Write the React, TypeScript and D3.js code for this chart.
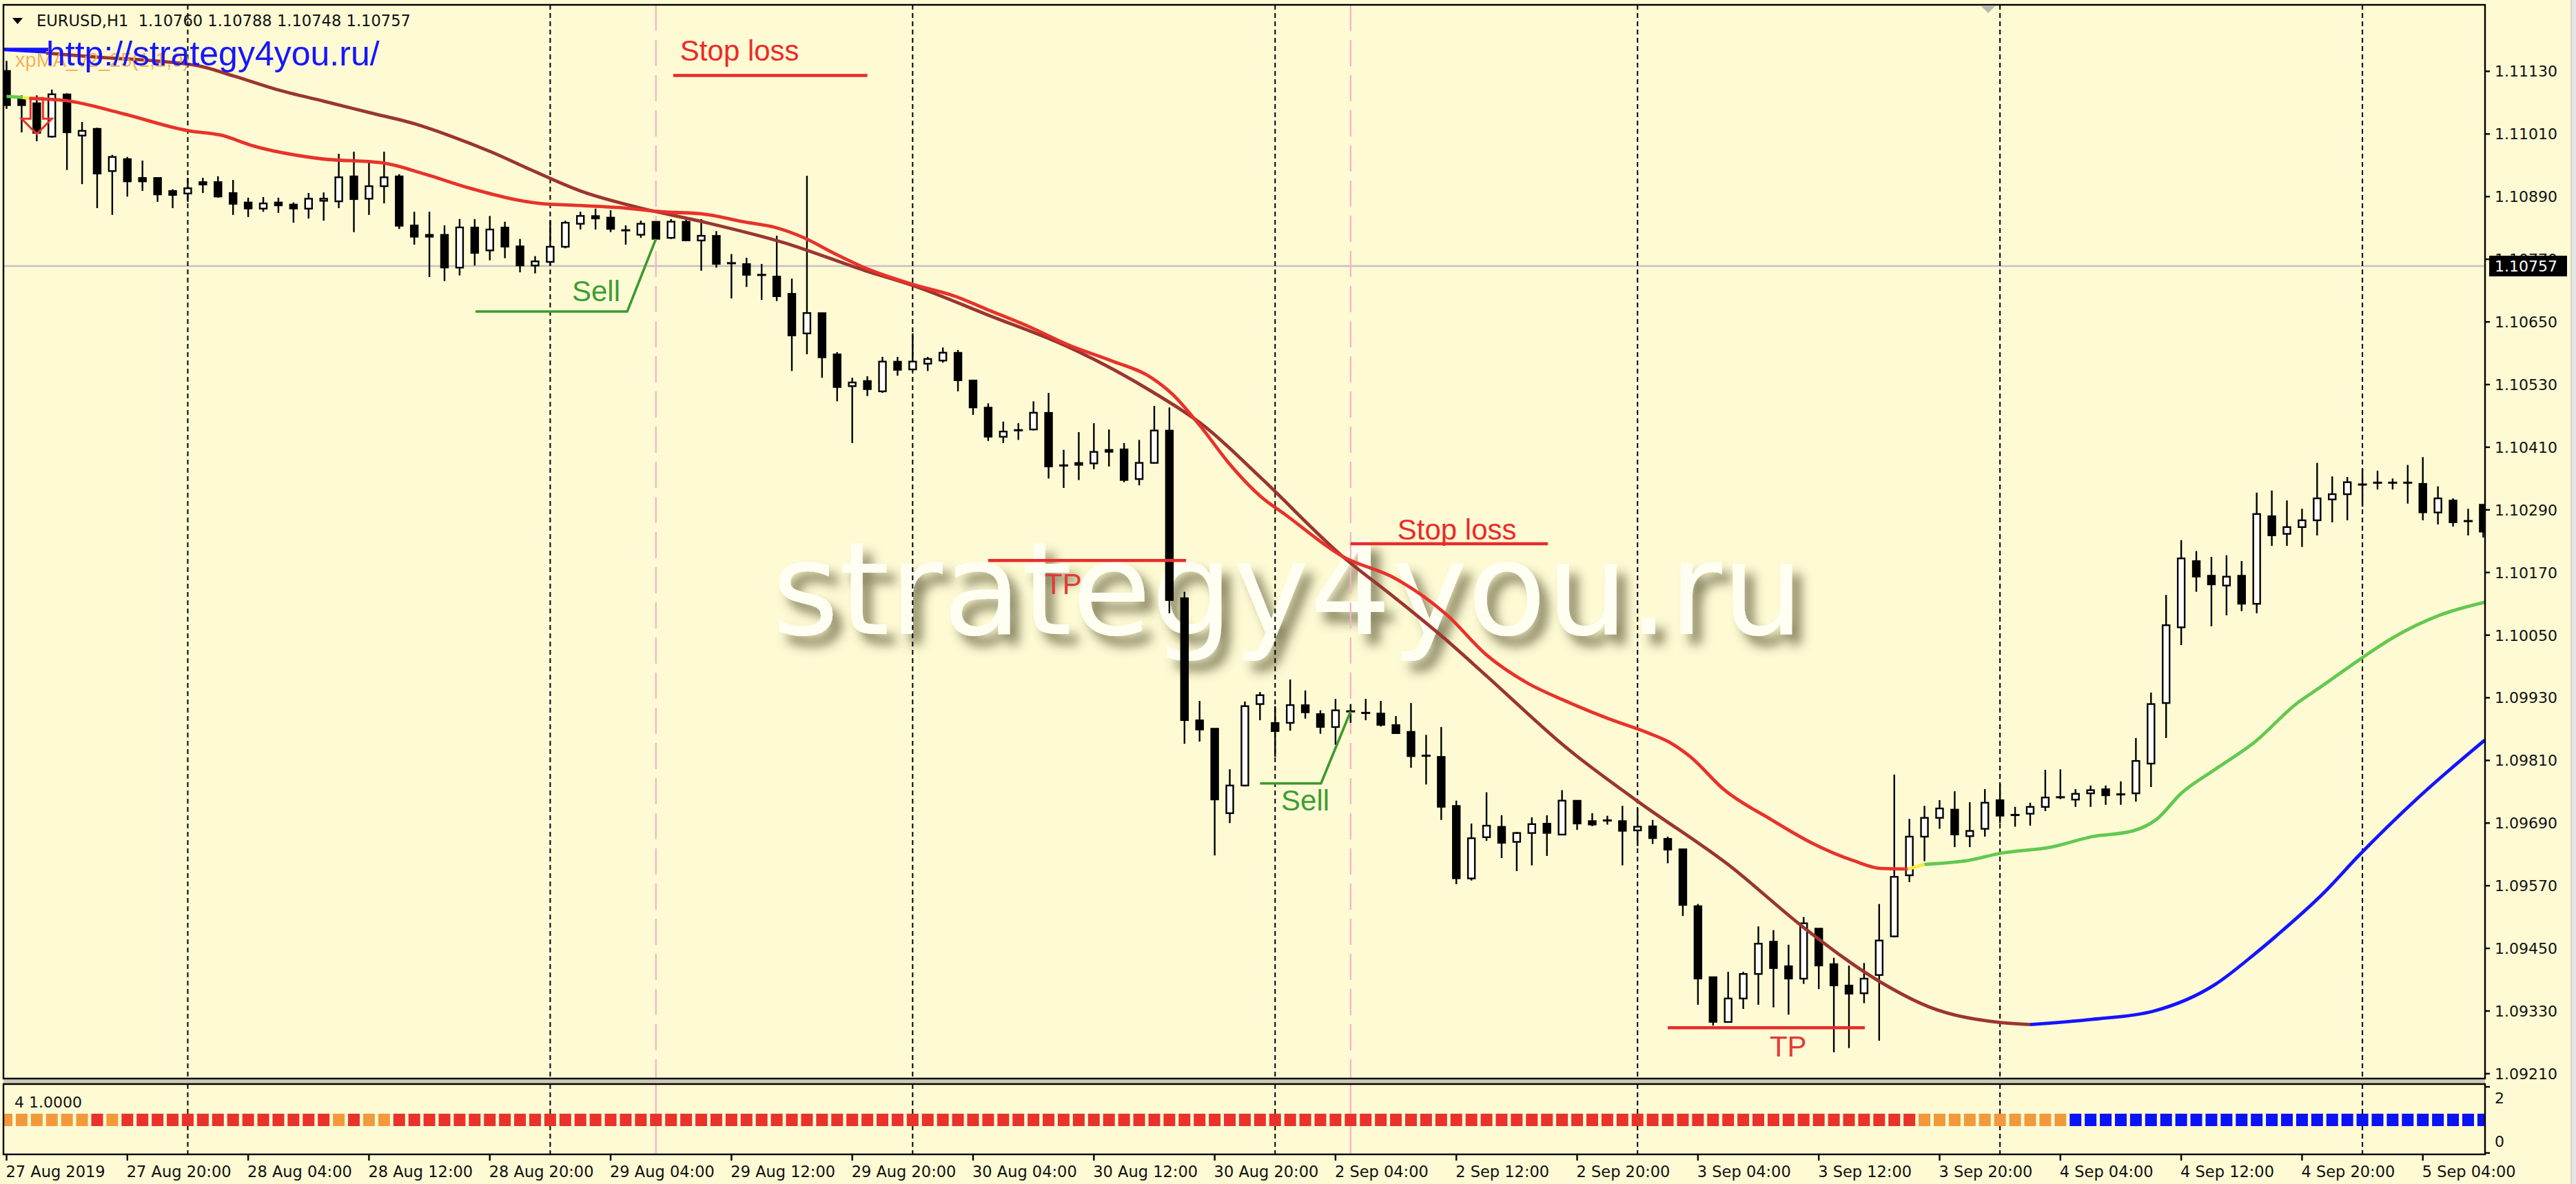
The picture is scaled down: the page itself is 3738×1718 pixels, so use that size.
import React, { useEffect } from "react";
import * as d3 from "d3";

const W = 3738;
const H = 1718;
const PLOT_L = 5;
const PLOT_R = 3606;
const MAIN_T = 7;
const MAIN_B = 1565;
const SUB_T = 1573;
const SUB_B = 1675;

// ---------- OHLC (EURUSD H1, 27 Aug 12:00 .. 5 Sep 08:00) ----------
const openP = [
  1.11131, 1.11078, 1.11069, 1.11005, 1.11086, 1.11007, 1.1102, 1.10939, 1.10962, 1.10926,
  1.10926, 1.10901, 1.10896, 1.10918, 1.10918, 1.10897, 1.10879, 1.10867, 1.10879, 1.10875,
  1.10867, 1.10882, 1.10881, 1.10929, 1.10886, 1.1091, 1.10929, 1.10835, 1.10817, 1.10817,
  1.10754, 1.10831, 1.10787, 1.10831, 1.10795, 1.10758, 1.10765, 1.10794, 1.10838, 1.10853,
  1.1085, 1.10827, 1.10817, 1.10842, 1.10811, 1.10842, 1.10806, 1.10815, 1.10764, 1.10761,
  1.10741, 1.10737, 1.10704, 1.10628, 1.10667, 1.10588, 1.10527, 1.10537, 1.10517, 1.10574,
  1.10559, 1.1057, 1.10576, 1.10591, 1.10538, 1.10486, 1.1043, 1.10442, 1.10444, 1.10476,
  1.10376, 1.1038, 1.10379, 1.10405, 1.10406, 1.10349, 1.1038, 1.10442, 1.10121, 1.09887,
  1.09871, 1.09709, 1.09762, 1.09918, 1.09882, 1.09882, 1.09916, 1.09899, 1.09874, 1.09905,
  1.09902, 1.099, 1.09878, 1.09865, 1.0982, 1.09817, 1.09723, 1.09584, 1.09663, 1.09683,
  1.09654, 1.09671, 1.09689, 1.09668, 1.09733, 1.09694, 1.09696, 1.09694, 1.09676, 1.09684,
  1.0966, 1.0964, 1.09531, 1.09395, 1.09309, 1.09354, 1.09401, 1.09463, 1.09416, 1.09392,
  1.09488, 1.0942, 1.09379, 1.09364, 1.09399, 1.09473, 1.0959, 1.09664, 1.097, 1.09716,
  1.09665, 1.09679, 1.09734, 1.09706, 1.09708, 1.09721, 1.09741, 1.09735, 1.09747, 1.09755,
  1.09746, 1.09747, 1.09804, 1.0992, 1.10065, 1.10192, 1.10164, 1.10145, 1.10164, 1.1011,
  1.10278, 1.10244, 1.10257, 1.1027, 1.1031, 1.1032, 1.1034, 1.10343, 1.10343, 1.10343,
  1.1034, 1.10285, 1.10308, 1.10269, 1.103,
];
const highP = [
  1.1115, 1.11084, 1.11084, 1.11095, 1.11088, 1.11033, 1.11022, 1.1097, 1.10966, 1.10959,
  1.10926, 1.10904, 1.10926, 1.10926, 1.10929, 1.10922, 1.10888, 1.10889, 1.10888, 1.10879,
  1.10897, 1.10898, 1.10972, 1.10976, 1.1096, 1.10976, 1.10933, 1.10861, 1.10861, 1.10835,
  1.10847, 1.10847, 1.10853, 1.10842, 1.10809, 1.10776, 1.10844, 1.10844, 1.10861, 1.10867,
  1.10864, 1.10835, 1.10844, 1.10842, 1.10847, 1.10851, 1.10847, 1.10824, 1.1078, 1.10773,
  1.10761, 1.10815, 1.10733, 1.1093, 1.10667, 1.10592, 1.10543, 1.10546, 1.10583, 1.10583,
  1.10628, 1.10583, 1.10601, 1.10596, 1.10538, 1.10494, 1.10459, 1.10456, 1.10498, 1.10514,
  1.10405, 1.10439, 1.10456, 1.10444, 1.10418, 1.10424, 1.10489, 1.10486, 1.10133, 1.09924,
  1.09871, 1.09793, 1.09923, 1.09941, 1.09914, 1.09965, 1.09944, 1.09906, 1.09928, 1.09918,
  1.09928, 1.09924, 1.09895, 1.0992, 1.09859, 1.09874, 1.09733, 1.09689, 1.09749, 1.09705,
  1.09673, 1.09701, 1.09705, 1.09753, 1.09733, 1.09709, 1.09704, 1.09723, 1.09718, 1.09696,
  1.09664, 1.0964, 1.09535, 1.09395, 1.09405, 1.09405, 1.09492, 1.09485, 1.09457, 1.0951,
  1.09488, 1.09432, 1.09417, 1.09422, 1.09535, 1.09783, 1.09698, 1.09723, 1.09734, 1.09751,
  1.0973, 1.09755, 1.09766, 1.09721, 1.09729, 1.09792, 1.09793, 1.09755, 1.09762, 1.09762,
  1.0977, 1.09853, 1.0994, 1.10127, 1.10232, 1.10211, 1.102, 1.10203, 1.10192, 1.10323,
  1.10327, 1.10308, 1.10292, 1.1038, 1.10354, 1.10353, 1.10369, 1.10365, 1.1035, 1.10376,
  1.10391, 1.10335, 1.10312, 1.10292, 1.103,
];
const lowP = [
  1.11058, 1.11013, 1.10996, 1.11003, 1.10941, 1.10914, 1.10868, 1.10855, 1.1089, 1.10901,
  1.1088, 1.10868, 1.1088, 1.10897, 1.10888, 1.10855, 1.10851, 1.10861, 1.10859, 1.1084,
  1.10848, 1.10844, 1.10868, 1.10822, 1.10855, 1.10877, 1.10828, 1.10798, 1.10736, 1.10728,
  1.10739, 1.10758, 1.10768, 1.10772, 1.10745, 1.10743, 1.10758, 1.10791, 1.10827, 1.10827,
  1.10822, 1.10798, 1.10811, 1.10806, 1.10809, 1.10805, 1.10748, 1.10754, 1.10695, 1.10717,
  1.10692, 1.1069, 1.10556, 1.10588, 1.10543, 1.10498, 1.10418, 1.10508, 1.10514, 1.10547,
  1.10556, 1.10556, 1.10572, 1.10517, 1.10472, 1.10422, 1.10418, 1.10424, 1.10442, 1.1035,
  1.10332, 1.10347, 1.10368, 1.10373, 1.10343, 1.10337, 1.10379, 1.10092, 1.09842, 1.09846,
  1.09628, 1.0969, 1.0976, 1.09887, 1.09817, 1.09867, 1.0989, 1.09861, 1.0984, 1.09882,
  1.09887, 1.09875, 1.09861, 1.09796, 1.09764, 1.09696, 1.09573, 1.0958, 1.09656, 1.09623,
  1.09598, 1.09609, 1.09627, 1.09667, 1.09677, 1.09684, 1.09687, 1.09609, 1.09646, 1.0965,
  1.09613, 1.09512, 1.09342, 1.09302, 1.09308, 1.09334, 1.09342, 1.09337, 1.09323, 1.09382,
  1.09372, 1.09251, 1.09259, 1.09345, 1.09273, 1.09471, 1.09577, 1.09617, 1.09679, 1.09644,
  1.09644, 1.09664, 1.0969, 1.09683, 1.09685, 1.09713, 1.09736, 1.09721, 1.09721, 1.09725,
  1.09725, 1.09731, 1.09759, 1.09853, 1.10031, 1.10133, 1.10067, 1.10088, 1.10096, 1.10092,
  1.10221, 1.10221, 1.10219, 1.10241, 1.10266, 1.1027, 1.10296, 1.10329, 1.10329, 1.10302,
  1.1027, 1.10262, 1.10258, 1.10241, 1.10237,
];
const closeP = [
  1.11065, 1.11065, 1.11012, 1.11086, 1.11013, 1.11016, 1.10934, 1.10966, 1.10919, 1.10919,
  1.10894, 1.10893, 1.10906, 1.10913, 1.1089, 1.10876, 1.10867, 1.10877, 1.10873, 1.10867,
  1.10886, 1.10886, 1.10927, 1.10885, 1.1091, 1.10927, 1.10834, 1.10813, 1.10813, 1.10754,
  1.10831, 1.10782, 1.10827, 1.10794, 1.10758, 1.10766, 1.10794, 1.1084, 1.10853, 1.10848,
  1.10828, 1.10824, 1.10838, 1.10809, 1.10842, 1.10806, 1.10815, 1.10761, 1.10761, 1.1074,
  1.10739, 1.10699, 1.10624, 1.10667, 1.10582, 1.10525, 1.10534, 1.10521, 1.10574, 1.10558,
  1.10574, 1.10579, 1.10591, 1.10538, 1.10486, 1.1043, 1.1044, 1.10443, 1.10476, 1.10373,
  1.10374, 1.10376, 1.10401, 1.10401, 1.10347, 1.1038, 1.10442, 1.10117, 1.09887, 1.09869,
  1.09735, 1.09762, 1.09914, 1.09935, 1.09866, 1.09916, 1.09902, 1.09874, 1.09906, 1.09903,
  1.099, 1.09878, 1.09862, 1.09818, 1.09818, 1.09721, 1.09584, 1.09661, 1.09685, 1.09652,
  1.09671, 1.09688, 1.09671, 1.09733, 1.09689, 1.09687, 1.09694, 1.09675, 1.09683, 1.09661,
  1.09639, 1.09533, 1.09392, 1.09309, 1.09354, 1.09401, 1.09459, 1.09412, 1.09392, 1.09498,
  1.09417, 1.09379, 1.09363, 1.09392, 1.09465, 1.09587, 1.09664, 1.097, 1.09718, 1.09668,
  1.09675, 1.09729, 1.09704, 1.09705, 1.09721, 1.09739, 1.09738, 1.09746, 1.09753, 1.09743,
  1.09744, 1.09809, 1.09918, 1.10069, 1.10197, 1.10162, 1.10147, 1.10162, 1.1011, 1.10282,
  1.10241, 1.10257, 1.1027, 1.10312, 1.1032, 1.10343, 1.10337, 1.10341, 1.10341, 1.10341,
  1.10285, 1.10312, 1.10266, 1.10268, 1.10248,
];

// ---------- axes ----------
const priceTicks = [
  1.1113, 1.1101, 1.1089, 1.1077, 1.1065, 1.1053, 1.1041, 1.1029, 1.1017,
  1.1005, 1.0993, 1.0981, 1.0969, 1.0957, 1.0945, 1.0933, 1.0921,
];
const currentPrice = 1.10757;
const timeTickBars = [0, 8, 16, 24, 32, 40, 48, 56, 64, 72, 80, 88, 96, 104, 112, 120, 128, 136, 144, 152, 160];
const timeTickLabels = [
  "27 Aug 2019", "27 Aug 20:00", "28 Aug 04:00", "28 Aug 12:00", "28 Aug 20:00",
  "29 Aug 04:00", "29 Aug 12:00", "29 Aug 20:00", "30 Aug 04:00", "30 Aug 12:00",
  "30 Aug 20:00", "2 Sep 04:00", "2 Sep 12:00", "2 Sep 20:00", "3 Sep 04:00",
  "3 Sep 12:00", "3 Sep 20:00", "4 Sep 04:00", "4 Sep 12:00", "4 Sep 20:00", "5 Sep 04:00",
];
const daySeparatorBars = [12, 36, 60, 84, 108, 132, 156];
const pinkLineBars = [43, 89];

// ---------- moving averages (bar index, price) ----------
const fastGreenA = [[0, 1.11082], [1.07, 1.1108]];
const fastYellowA = [[1.07, 1.1108], [1.5, 1.11078]];
const fastRed = [
  [1.5, 1.11078], [3.9, 1.11074], [7.69, 1.11049], [12.07, 1.11016], [14.17, 1.11008],
  [16.36, 1.10987], [20.69, 1.10963], [25.03, 1.10954], [27.72, 1.10933], [30.69, 1.10906],
  [35.3, 1.10877], [38.0, 1.10873], [40.6, 1.10869], [43.33, 1.10861], [46.07, 1.10857],
  [48.76, 1.10842], [50.9, 1.10831], [52.82, 1.10811], [54.69, 1.10783], [56.88, 1.10753],
  [60.12, 1.10721], [62.82, 1.10699], [65.0, 1.10673], [67.7, 1.10641], [70.39, 1.10605],
  [73.13, 1.10576], [75.82, 1.10543], [77.19, 1.10512], [79.06, 1.1045], [80.98, 1.10378],
  [83.07, 1.10315], [84.67, 1.10281], [88.46, 1.10201], [92.0, 1.10158], [95.4, 1.10088],
  [97.96, 1.10013], [100.6, 1.0996], [103.3, 1.09923], [106.07, 1.0989], [108.76, 1.09862],
  [110.1, 1.09845], [111.5, 1.09817], [113.65, 1.09756], [116.89, 1.09696], [119.6, 1.09651],
  [122.3, 1.09618], [124.15, 1.09603], [125.9, 1.09602],
];
const fastYellowB = [[125.9, 1.09602], [127.0, 1.09611]];
const fastGreenB = [
  [127.0, 1.09611], [130.0, 1.09619], [132.0, 1.09632], [135.4, 1.09644], [138.1, 1.09664],
  [140.8, 1.09675], [142.4, 1.09698], [144.0, 1.09747], [146.2, 1.09792], [148.9, 1.09846],
  [151.6, 1.09918], [153.3, 1.09952], [155.9, 1.10005], [157.9, 1.10043], [161.1, 1.10088],
  [164.1, 1.10113],
];
const slowBlueA = [[-0.4, 1.11172], [2.62, 1.11167]];
const slowBrown = [
  [2.62, 1.11165], [5.68, 1.11158], [12.62, 1.11141], [15.04, 1.11121], [17.91, 1.11095],
  [20.97, 1.11073], [24.03, 1.11051], [27.08, 1.11029], [29.32, 1.11007], [32.06, 1.10976],
  [34.75, 1.10941], [37.99, 1.10901], [42.0, 1.10868], [46.07, 1.10842], [51.45, 1.10802],
  [56.88, 1.10748], [60.08, 1.10719], [65.0, 1.10663], [70.39, 1.10601], [75.82, 1.10517],
  [79.33, 1.1045], [83.07, 1.10351], [88.46, 1.10201], [92.0, 1.1012], [95.4, 1.10039],
  [97.96, 1.09973], [103.3, 1.09834], [107.9, 1.09734], [114.2, 1.09606], [119.0, 1.0949],
  [124.0, 1.09387], [127.3, 1.09338], [132.0, 1.09308], [134.0, 1.09304],
];
const slowBlueB = [
  [134.0, 1.09304], [138.1, 1.09314], [142.2, 1.0933], [146.2, 1.0938], [148.9, 1.0944],
  [150.3, 1.09474], [153.5, 1.09558], [155.7, 1.09626], [159.7, 1.09739], [164.1, 1.09849],
];

// ---------- signal bar (0 = orange, 1 = red, 2 = blue) ----------
const signalState = [
  0, 0, 0, 0, 0, 0, 1, 0, 1, 1, 1, 1, 1, 1, 1, 1, 1, 1, 1, 1,
  1, 1, 0, 1, 0, 0, 1, 1, 1, 1, 1, 1, 1, 1, 1, 1, 1, 1, 1, 1,
  1, 1, 1, 1, 1, 1, 1, 1, 1, 1, 1, 1, 1, 1, 1, 1, 1, 1, 1, 1,
  1, 1, 1, 1, 1, 1, 1, 1, 1, 1, 1, 1, 1, 1, 1, 1, 1, 1, 1, 1,
  1, 1, 1, 1, 1, 1, 1, 1, 1, 1, 1, 1, 1, 1, 1, 1, 1, 1, 1, 1,
  1, 1, 1, 1, 1, 1, 1, 1, 1, 1, 1, 1, 1, 1, 1, 1, 1, 1, 1, 1,
  1, 1, 1, 1, 1, 1, 1, 0, 0, 0, 0, 0, 0, 0, 0, 0, 0, 2, 2, 2,
  2, 2, 2, 2, 2, 2, 2, 2, 2, 2, 2, 2, 2, 2, 2, 2, 2, 2, 2, 2,
  2, 2, 2, 2, 2,
];
const signalValue = 1;

// ---------- trade annotations ----------
const stopLossLines = [
  { from: 44.15, to: 57.0, price: 1.11122, labelBar: 44.6, labelPrice: 1.1115 },
  { from: 89.0, to: 102.06, price: 1.10225, labelBar: 92.1, labelPrice: 1.10233 },
];
const takeProfitLines = [
  { from: 65.0, to: 78.1, price: 1.10193, labelBar: 68.75, labelPrice: 1.10129 },
  { from: 110.0, to: 123.05, price: 1.09298, labelBar: 116.75, labelPrice: 1.09243 },
];
const sellPaths = [
  [[31.05, 1.1067], [41.1, 1.1067], [43.0, 1.10809]],
  [[83.0, 1.09766], [87.04, 1.09766], [89.0, 1.09904]],
];
const sellLabels = [[37.44, 1.1069], [84.4, 1.09714]];
const sellArrowBar = 2;

const BG = "rgb(253,250,212)";
const FONT = "DejaVu Sans";
const C_FAST_RED = "#e8322a";
const C_BROWN = "#9b3530";
const C_BLUE = "#1414ff";
const C_GREEN_MA = "#62c94f";
const C_YELLOW = "#f3ee3c";
const C_SELL = "#3b9a2e";
const C_ANN_RED = "#e82c2a";

export default function App() {
  useEffect(() => {
    document.body.style.margin = "0";
    document.body.style.overflow = "hidden";
  }, []);

  const x = d3.scaleLinear().domain([0, 164]).range([9.5, 3603.4]);
  const y = d3.scaleLinear().domain([1.0921, 1.1113]).range([1557.9, 103.5]);
  const ySub = d3.scaleLinear().domain([0, 2]).range([1673, 1577]);

  const maLine = d3
    .line<number[]>()
    .x((d) => x(d[0]))
    .y((d) => y(d[1]))
    .curve(d3.curveMonotoneX);
  const polyLine = d3
    .line<number[]>()
    .x((d) => x(d[0]))
    .y((d) => y(d[1]));

  const bars = d3.range(openP.length);
  const signalColors = ["#f29a3b", "#e8332b", "#0a12f6"];

  const arrowCx = x(sellArrowBar);
  const arrowTop = y(highP[sellArrowBar]) + 4;
  const arrowPath = d3.path();
  arrowPath.moveTo(arrowCx - 9, arrowTop);
  arrowPath.lineTo(arrowCx + 9, arrowTop);
  arrowPath.lineTo(arrowCx + 9, arrowTop + 30);
  arrowPath.lineTo(arrowCx + 22, arrowTop + 30);
  arrowPath.lineTo(arrowCx, arrowTop + 52);
  arrowPath.lineTo(arrowCx - 22, arrowTop + 30);
  arrowPath.lineTo(arrowCx - 9, arrowTop + 30);
  arrowPath.closePath();

  return (
    <svg
      width={W}
      height={H}
      viewBox={`0 0 ${W} ${H}`}
      style={{ position: "absolute", left: 0, top: 0, display: "block" }}
    >
      <defs>
        <clipPath id="mainClip">
          <rect x={PLOT_L} y={MAIN_T} width={PLOT_R - PLOT_L} height={MAIN_B - MAIN_T} />
        </clipPath>
        <clipPath id="subClip">
          <rect x={PLOT_L} y={SUB_T} width={PLOT_R - PLOT_L} height={SUB_B - SUB_T} />
        </clipPath>
        <filter id="wmShadow" x="-10%" y="-30%" width="130%" height="170%">
          <feGaussianBlur in="SourceAlpha" stdDeviation="8" result="blur" />
          <feOffset in="blur" dx="13" dy="15" result="off" />
          <feFlood floodColor="#5c5934" floodOpacity="0.72" result="col" />
          <feComposite in="col" in2="off" operator="in" result="shadow" />
          <feMerge>
            <feMergeNode in="shadow" />
            <feMergeNode in="SourceGraphic" />
          </feMerge>
        </filter>
      </defs>

      <rect x={0} y={0} width={W} height={H} fill={BG} />
      <rect x={3731} y={0} width={7} height={H} fill="#e6e6e2" />
      <line x1={3731} y1={0} x2={3731} y2={H} stroke="#c8c8c8" strokeWidth={1.5} />

      {/* separator band between panels */}
      <rect x={PLOT_L} y={MAIN_B} width={PLOT_R - PLOT_L} height={SUB_T - MAIN_B} fill="#cbc8b2" />

      {/* ---------- main panel ---------- */}
      <g clipPath="url(#mainClip)">
        {/* watermark */}
        <text
          x={1120}
          y={920}
          fontFamily={FONT}
          fontSize={187}
          fill="#fffef2"
          filter="url(#wmShadow)"
        >
          strategy4you.ru
        </text>

        {/* current price line */}
        <line
          x1={PLOT_L}
          x2={PLOT_R}
          y1={y(currentPrice)}
          y2={y(currentPrice)}
          stroke="#c2c2c2"
          strokeWidth={2.4}
        />

        {/* day separators */}
        {daySeparatorBars.map((b) => (
          <line
            key={"ds" + b}
            x1={x(b)}
            x2={x(b)}
            y1={MAIN_T}
            y2={MAIN_B}
            stroke="#000"
            strokeWidth={2}
            strokeDasharray="7 5"
          />
        ))}
        {pinkLineBars.map((b) => (
          <line
            key={"pk" + b}
            x1={x(b)}
            x2={x(b)}
            y1={MAIN_T}
            y2={MAIN_B}
            stroke="#f4b3c6"
            strokeWidth={2.2}
            strokeDasharray="38 13"
          />
        ))}

        {/* candles */}
        {bars.map((i) => {
          const cx = x(i);
          const o = openP[i];
          const c = closeP[i];
          const yo = y(o);
          const yc = y(c);
          const top = Math.min(yo, yc);
          const bot = Math.max(yo, yc);
          const bull = c >= o;
          const hgt = bot - top;
          return (
            <g key={"c" + i}>
              <line x1={cx} x2={cx} y1={y(highP[i])} y2={y(lowP[i])} stroke="#000" strokeWidth={2.4} />
              {hgt < 3 ? (
                <line x1={cx - 6.5} x2={cx + 6.5} y1={(top + bot) / 2} y2={(top + bot) / 2} stroke="#000" strokeWidth={3} />
              ) : bull ? (
                <rect x={cx - 5} y={top} width={10} height={hgt} fill="#fff" stroke="#000" strokeWidth={2.4} />
              ) : (
                <rect x={cx - 6.2} y={top - 1} width={12.4} height={hgt + 2} fill="#000" />
              )}
            </g>
          );
        })}

        {/* moving averages */}
        <path d={maLine(slowBlueA) || ""} fill="none" stroke={C_BLUE} strokeWidth={4.8} />
        <path d={maLine(slowBrown) || ""} fill="none" stroke={C_BROWN} strokeWidth={4.8} />
        <path d={maLine(slowBlueB) || ""} fill="none" stroke={C_BLUE} strokeWidth={4.8} />
        <path d={maLine(fastGreenA) || ""} fill="none" stroke={C_GREEN_MA} strokeWidth={4.8} />
        <path d={maLine(fastYellowA) || ""} fill="none" stroke={C_YELLOW} strokeWidth={4.8} />
        <path d={maLine(fastRed) || ""} fill="none" stroke={C_FAST_RED} strokeWidth={4.8} />
        <path d={maLine(fastYellowB) || ""} fill="none" stroke={C_YELLOW} strokeWidth={4.8} />
        <path d={maLine(fastGreenB) || ""} fill="none" stroke={C_GREEN_MA} strokeWidth={4.8} />

        {/* sell arrow */}
        <path d={arrowPath.toString()} fill="none" stroke="#e8302c" strokeWidth={3} />

        {/* trade annotations */}
        {stopLossLines.map((s, k) => (
          <g key={"sl" + k}>
            <line x1={x(s.from)} x2={x(s.to)} y1={y(s.price)} y2={y(s.price)} stroke={C_ANN_RED} strokeWidth={4.5} />
            <text x={x(s.labelBar)} y={y(s.labelPrice)} fontFamily="Liberation Sans" fontSize={42} fill="#ec2a2a">
              Stop loss
            </text>
          </g>
        ))}
        {takeProfitLines.map((t, k) => (
          <g key={"tp" + k}>
            <line x1={x(t.from)} x2={x(t.to)} y1={y(t.price)} y2={y(t.price)} stroke={C_ANN_RED} strokeWidth={4.5} />
            <text x={x(t.labelBar)} y={y(t.labelPrice)} fontFamily="Liberation Sans" fontSize={42} fill="#e23a36">
              TP
            </text>
          </g>
        ))}
        {sellPaths.map((p, k) => (
          <path key={"sp" + k} d={polyLine(p) || ""} fill="none" stroke={C_SELL} strokeWidth={3.6} />
        ))}
        {sellLabels.map((p, k) => (
          <text key={"st" + k} x={x(p[0])} y={y(p[1])} fontFamily="Liberation Sans" fontSize={42} fill="#3f9d33">
            Sell
          </text>
        ))}

        {/* header texts */}
        <text x={22} y={97} fontFamily="Liberation Sans" fontSize={29} fill="#f5a84e" opacity={0.9}>
          xpMA_v2_25(1,1,0)
        </text>
        <line x1={PLOT_L} x2={70} y1={y(1.11172)} y2={y(1.11172)} stroke={C_BLUE} strokeWidth={4.8} />
        <text x={67} y={95} fontFamily="Liberation Sans" fontSize={50} fill="#1616ff">
          http://strategy4you.ru/
        </text>
        <path d="M18,26 L33,26 L25.5,35 Z" fill="#000" />
        <text x={53} y={38} fontFamily={FONT} fontSize={22.6} fill="#111" style={{ whiteSpace: "pre" }}>
          {"EURUSD,H1  1.10760 1.10788 1.10748 1.10757"}
        </text>
        <path d="M2875,9 L2895,9 L2885,19 Z" fill="#b8b8b8" />
      </g>

      {/* ---------- sub panel ---------- */}
      <g clipPath="url(#subClip)">
        {daySeparatorBars.map((b) => (
          <line
            key={"ds2" + b}
            x1={x(b)}
            x2={x(b)}
            y1={SUB_T}
            y2={SUB_B}
            stroke="#000"
            strokeWidth={2}
            strokeDasharray="7 5"
          />
        ))}
        {pinkLineBars.map((b) => (
          <line key={"pk2" + b} x1={x(b)} x2={x(b)} y1={SUB_T} y2={SUB_B} stroke="#f4b3c6" strokeWidth={2.2} />
        ))}
        {bars.map((i) => (
          <rect
            key={"sq" + i}
            x={x(i) - 8.5}
            y={ySub(signalValue) - 9}
            width={17}
            height={18}
            fill={signalColors[signalState[i]]}
          />
        ))}
        <text x={21} y={1607} fontFamily={FONT} fontSize={22} fill="#111">
          4 1.0000
        </text>
      </g>

      {/* frames */}
      <rect x={PLOT_L} y={MAIN_T} width={PLOT_R - PLOT_L} height={MAIN_B - MAIN_T} fill="none" stroke="#000" strokeWidth={2.4} />
      <rect x={PLOT_L} y={SUB_T} width={PLOT_R - PLOT_L} height={SUB_B - SUB_T} fill="none" stroke="#000" strokeWidth={2.4} />

      {/* price axis */}
      {priceTicks.map((p) => (
        <g key={"pt" + p}>
          <line x1={PLOT_R} x2={PLOT_R + 7} y1={y(p)} y2={y(p)} stroke="#000" strokeWidth={2.4} />
          <text x={3620} y={y(p)} dy="0.36em" fontFamily={FONT} fontSize={22} fill="#111">
            {p.toFixed(5)}
          </text>
        </g>
      ))}
      <rect x={3612} y={y(currentPrice) - 15} width={113} height={30} fill="#000" />
      <text x={3620} y={y(currentPrice)} dy="0.36em" fontFamily={FONT} fontSize={22} fill="#fff">
        {currentPrice.toFixed(5)}
      </text>

      {/* sub panel axis */}
      {[2, 0].map((v) => (
        <line key={"st" + v} x1={PLOT_R} x2={PLOT_R + 7} y1={ySub(v)} y2={ySub(v)} stroke="#000" strokeWidth={2.4} />
      ))}
      <text x={3620} y={1601} fontFamily={FONT} fontSize={22} fill="#111">2</text>
      <text x={3620} y={1664} fontFamily={FONT} fontSize={22} fill="#111">0</text>

      {/* time axis */}
      {timeTickBars.map((b, k) => (
        <g key={"tt" + b}>
          <line x1={x(b)} x2={x(b)} y1={SUB_B} y2={SUB_B + 9} stroke="#000" strokeWidth={2.4} />
          <text x={x(b) - 1} y={1708} fontFamily={FONT} fontSize={22.5} fill="#111">
            {timeTickLabels[k]}
          </text>
        </g>
      ))}
    </svg>
  );
}
